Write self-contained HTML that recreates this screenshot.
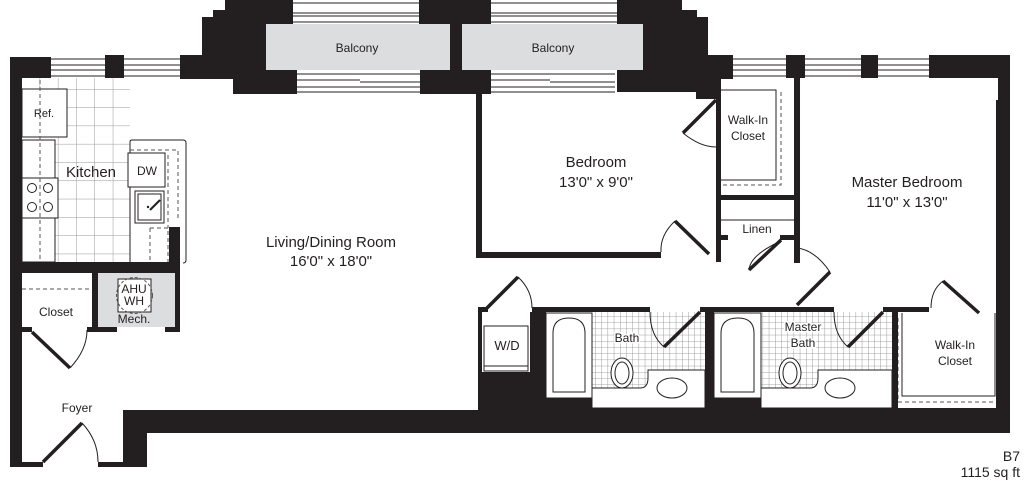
<!DOCTYPE html>
<html><head><meta charset="utf-8"><style>
html,body{margin:0;padding:0;background:#fff;}
svg{display:block;}
text{font-family:"Liberation Sans",sans-serif;fill:#231f20;text-anchor:middle;}
</style></head><body>
<svg width="1024" height="491" viewBox="0 0 1024 491" xmlns="http://www.w3.org/2000/svg">
<defs>
<pattern id="kt" x="3" y="89" width="18.3" height="18.3" patternUnits="userSpaceOnUse">
<path d="M0 0H18.3M0 0V18.3" stroke="#999" stroke-width="1" fill="none"/></pattern>
<pattern id="bt" x="0" y="0" width="6.2" height="6.2" patternUnits="userSpaceOnUse">
<path d="M0 0H6.2M0 0V6.2" stroke="#888" stroke-width="0.8" fill="none"/></pattern>
</defs>
<g fill="#231f20">
<!-- balconies gray -->
<rect x="266" y="24" width="184" height="46" fill="#dcdddf"/>
<rect x="462" y="24" width="181" height="46" fill="#dcdddf"/>
</g>
<!-- windows -->
<g fill="none" stroke="#231f20" stroke-width="1">
<path d="M51 59H105M51 65H105M51 70H105M51 76H105"/>
<path d="M124 59H180M124 65H180M124 70H180M124 76H180"/>
<path d="M293 3H419M293 13H419M293 16H419M293 22H419"/>
<path d="M297 74H420M297 80H360M360 82H420M297 87H420M297 92H420"/>
<path d="M491 3H617M491 13H617M491 16H617M491 22H617"/>
<path d="M491 74H615M491 80H550M550 82H615M491 87H615M491 92H615"/>
<path d="M733 59H786M733 65H786M733 70H786M733 76H786"/>
<path d="M805 59H861M805 65H861M805 70H861M805 76H861"/>
<path d="M878 59H929M878 65H929M878 70H929M878 76H929"/>
</g>
<!-- kitchen -->
<rect x="22" y="78" width="108" height="184" fill="url(#kt)"/>
<g fill="#fff" stroke="#231f20" stroke-width="1">
<rect x="22" y="140" width="33" height="122"/>
<rect x="22" y="89" width="45" height="48"/>
<rect x="22" y="178" width="36" height="40"/>
<path d="M130 262V142Q130 140 132 140H183Q186 140 186 143V260Q186 263 183 263"/>
<rect x="128" y="153" width="37" height="34"/>
<rect x="135" y="191" width="29" height="32"/>
<rect x="138" y="194" width="23" height="26"/>
<circle cx="32" cy="188" r="4.5"/><circle cx="48" cy="188" r="4.5"/>
<circle cx="32" cy="207" r="4.5"/><circle cx="48" cy="207" r="4.5"/>
</g>
<g fill="none" stroke="#555" stroke-width="1" stroke-dasharray="4,3">
<path d="M40 80V262"/><path d="M130 150H178V220M168 155V228M150 228H168V262M150 228V262"/>
<path d="M22 289H92"/>
</g>
<path d="M150 210L160 200" stroke="#231f20" stroke-width="2"/>
<circle cx="148" cy="207" r="1.2" fill="#231f20"/>
<!-- mech -->
<rect x="98" y="273" width="77" height="54" fill="#dcdddf"/>
<rect x="118" y="279" width="33" height="33" fill="#fff" stroke="#231f20"/>
<circle cx="134.5" cy="295.5" r="18" fill="none" stroke="#555" stroke-dasharray="3,2"/>
<!-- baths -->
<rect x="592" y="312" width="113" height="76" fill="url(#bt)"/>
<rect x="761" y="312" width="131" height="76" fill="url(#bt)"/>
<g fill="#fff" stroke="#231f20" stroke-width="1">
<path d="M592 408V388H640Q648 388 648 378V370H705V408Z"/>
<path d="M761 408V388H810Q818 388 818 378V370H892V408Z"/>
<rect x="546" y="313" width="46" height="85"/>
<rect x="714" y="313" width="47" height="85"/>
<path d="M553 392V333Q553 318 569 318Q585 318 585 333V392Z"/>
<path d="M721 392V333Q721 318 738 318Q754 318 754 333V392Z"/>
<ellipse cx="622" cy="373" rx="11" ry="15"/><ellipse cx="622" cy="373" rx="7" ry="11"/>
<ellipse cx="790" cy="373" rx="11" ry="15"/><ellipse cx="790" cy="373" rx="7" ry="11"/>
<ellipse cx="672" cy="388" rx="15" ry="10"/>
<ellipse cx="840" cy="388" rx="15" ry="10"/>
<rect x="484" y="326" width="44" height="40"/>
<rect x="484" y="366" width="44" height="5"/>
<path d="M721 90H776V180H721"/>
<path d="M902 313V396H995V313"/>
</g>
<g fill="none" stroke="#555" stroke-dasharray="4,3">
<path d="M781 92V185H721"/><path d="M898 318V402H999V318"/>
</g>
<!-- thin lines -->
<path d="M721 220H794" stroke="#231f20"/>
<!-- doors arcs -->
<g fill="none" stroke="#231f20" stroke-width="1">
<path d="M683 133Q700 147 716 147"/>
<path d="M675 221Q660 235 661 252"/>
<path d="M781 241Q750 255 749 270"/>
<path d="M830 272Q815 250 797 248"/>
<path d="M518 277Q532 290 532 308"/>
<path d="M664 347Q650 335 650 312"/>
<path d="M848 347Q834 335 834 312"/>
<path d="M943 281Q931 290 931 308"/>
<path d="M70 368Q87 350 87 330"/>
<path d="M82 423Q98 440 98 462"/>
</g>
<g fill="none" stroke="#231f20" stroke-width="3.5">
<path d="M716 100L683 133"/><path d="M709 254L675 221"/>
<path d="M781 240L749 270"/><path d="M830 272L797 305"/>
<path d="M487 308L518 277"/><path d="M700 312L664 347"/>
<path d="M883 312L848 347"/><path d="M979 313L943 281"/>
<path d="M32 332L70 368"/><path d="M43 462L82 423"/>
</g>
<!-- walls -->
<g fill="#231f20">
<path d="M10 57H51V78H22V467H10Z"/>
<rect x="105" y="55" width="19" height="23"/>
<path d="M180 55H202V17H213V10H225V0H293V24H266V70H297V94H233V79H180Z"/>
<path d="M419 0H491V24H462V70H491V94H420V70H450V24H419Z"/>
<path d="M617 0H682V10H697V17H708V55H733V79H721V148H716V99H696V92H617V70H643V24H617Z"/>
<rect x="786" y="55" width="19" height="23"/>
<rect x="861" y="55" width="17" height="23"/>
<path d="M929 55H1010V433H996V100H998V78H929Z"/>
<rect x="716" y="147" width="5" height="115"/>
<rect x="794" y="78" width="6" height="185"/>
<rect x="716" y="195" width="84" height="5"/>
<rect x="716" y="235" width="12" height="5"/>
<rect x="780" y="235" width="20" height="5"/>
<rect x="476" y="94" width="6" height="164"/>
<rect x="476" y="252" width="185" height="6"/>
<rect x="10" y="262" width="170" height="11"/>
<rect x="169" y="227" width="11" height="36"/>
<rect x="92" y="273" width="6" height="59"/>
<rect x="175" y="273" width="5" height="59"/>
<rect x="92" y="327" width="25" height="5"/><rect x="165" y="327" width="15" height="5"/>
<rect x="22" y="327" width="10" height="5"/><rect x="87" y="327" width="11" height="5"/>
<rect x="10" y="462" width="33" height="5"/><rect x="98" y="462" width="25" height="5"/>
<path d="M123 410H478V307H488V312H482V372H530V312H532V307H650V312H546V398H592V408H705V312H700V307H834V312H714V398H761V408H892V312H883V307H929V312H898V408H1010V433H147V467H123Z"/>
</g>
<!-- labels -->
<text x="357" y="52" font-size="12">Balcony</text>
<text x="553" y="52" font-size="12">Balcony</text>
<text x="44" y="117" font-size="11">Ref.</text>
<text x="91" y="177" font-size="15">Kitchen</text>
<text x="147" y="175" font-size="12">DW</text>
<text x="331" y="247" font-size="15">Living/Dining Room</text>
<text x="331" y="266" font-size="15">16'0" x 18'0"</text>
<text x="596" y="167" font-size="15">Bedroom</text>
<text x="596" y="187" font-size="15">13'0" x 9'0"</text>
<text x="748" y="124" font-size="12">Walk-In</text>
<text x="748" y="140" font-size="12">Closet</text>
<text x="907" y="187" font-size="15">Master Bedroom</text>
<text x="907" y="207" font-size="15">11'0" x 13'0"</text>
<text x="757" y="233" font-size="12">Linen</text>
<text x="56" y="316" font-size="12">Closet</text>
<text x="134" y="293" font-size="12">AHU</text>
<text x="134" y="305" font-size="12">WH</text>
<text x="134" y="323" font-size="12">Mech.</text>
<text x="507" y="350" font-size="13">W/D</text>
<text x="627" y="342" font-size="12" style="paint-order:stroke" stroke="#fff" stroke-width="3">Bath</text>
<text x="803" y="331" font-size="12" style="paint-order:stroke" stroke="#fff" stroke-width="3">Master</text>
<text x="803" y="347" font-size="12" style="paint-order:stroke" stroke="#fff" stroke-width="3">Bath</text>
<text x="955" y="349" font-size="12">Walk-In</text>
<text x="955" y="365" font-size="12">Closet</text>
<text x="77" y="412" font-size="12">Foyer</text>
<text x="1020" y="461" font-size="14" style="text-anchor:end">B7</text>
<text x="1020" y="477" font-size="14" style="text-anchor:end">1115 sq ft</text>
</svg>
</body></html>
